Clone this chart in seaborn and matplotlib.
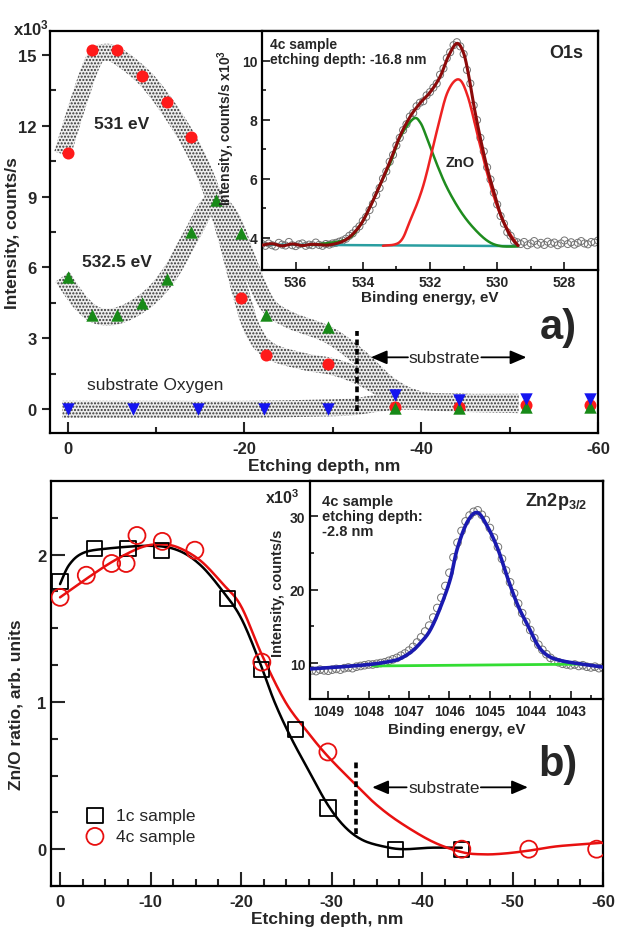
import numpy as np
import matplotlib
matplotlib.use("Agg")
import matplotlib.pyplot as plt
import seaborn as sns

# ---- panel a: O1s component intensities vs etching depth (x10^3 counts/s)
depth_531 = [0, -2.8, -5.6, -8.4, -11.2, -14.0, -19.6, -22.4, -29.5, -37.0, -44.3, -51.9, -59.1]
int_531 = [10.85, 15.2, 15.2, 14.1, 13.0, 11.5, 4.7, 2.3, 1.9, 0.1, 0.1, 0.17, 0.17]
depth_5325 = [0, -2.8, -5.6, -8.4, -11.2, -14.0, -16.8, -19.6, -22.4, -29.5, -37.0, -44.3, -51.9, -59.1]
int_5325 = [5.6, 4.0, 4.0, 4.5, 5.5, 7.5, 8.85, 7.45, 4.0, 3.5, 0.05, 0.05, 0.1, 0.1]
depth_sub = [0, -7.4, -14.8, -22.2, -29.5, -37.0, -44.3, -51.9, -59.1]
int_sub = [0, 0, 0, 0, 0, 0.6, 0.4, 0.45, 0.45]

# hand drawn guide bands
guide_531_x = [0.6, -1.4, -3.0, -4.4, -6.0, -9.0, -12.0, -14.5, -16.5, -18.0, -19.6, -21.0,
               -23.0, -27.0, -30.0, -33.0, -36.5, -40.0, -45.0, -51.0]
guide_531_y = [10.8, 13.2, 14.8, 15.1, 14.85, 13.9, 12.4, 10.8, 9.0, 7.2, 4.9, 3.3,
               2.45, 2.0, 1.8, 1.4, 0.7, 0.35, 0.25, 0.2]
guide_5325_x = [0.6, -1.5, -3.5, -6.0, -9.0, -11.5, -14.0, -16.3, -18.5, -20.5, -22.5,
                -25.0, -29.5, -33.0, -36.5, -40.0, -45.0, -51.0]
guide_5325_y = [5.6, 4.5, 3.95, 4.0, 4.65, 5.7, 7.35, 8.75, 8.1, 6.2, 4.5,
                3.8, 3.15, 2.2, 1.0, 0.4, 0.3, 0.25]
guide_sub_x = [0.6, -10.0, -20.0, -28.0, -32.0, -35.0, -38.0, -42.0, -51.0]
guide_sub_y = [0.0, 0.0, 0.0, 0.05, 0.1, 0.25, 0.35, 0.3, 0.3]

# ---- inset a: O1s spectrum, 4c sample, -16.8 nm (537.0 -> 527.0 eV, 0.1 eV step)
o1s_counts = [3.78, 3.72, 3.80, 3.74, 3.70, 3.82, 3.76, 3.73, 3.85, 3.74,
              3.71, 3.77, 3.80, 3.72, 3.76, 3.74, 3.83, 3.75, 3.72, 3.78,
              3.76, 3.80, 3.82, 3.86, 3.90, 3.96, 4.06, 4.14, 4.27, 4.38,
              4.56, 4.70, 4.93, 5.14, 5.44, 5.68, 6.00, 6.24, 6.57, 6.80,
              7.12, 7.38, 7.64, 7.84, 8.10, 8.22, 8.45, 8.57, 8.62, 8.82,
              8.93, 9.08, 9.22, 9.52, 9.73, 10.08, 10.28, 10.52, 10.62, 10.48,
              10.22, 9.68, 9.22, 8.48, 7.98, 7.38, 6.92, 6.38, 5.97, 5.52,
              5.12, 4.73, 4.47, 4.18, 4.06, 3.88, 3.84, 3.78, 3.85, 3.74,
              3.80, 3.88, 3.76, 3.82, 3.75, 3.86, 3.79, 3.83, 3.74, 3.80,
              3.90, 3.78, 3.84, 3.76, 3.82, 3.88, 3.80, 3.77, 3.85, 3.83,
              3.90]
o1s_energy = np.linspace(537.0, 527.0, len(o1s_counts))
env_x = [537.0, 536.7, 536.4, 536.1, 535.8, 535.5, 535.0, 534.5, 534.1, 533.8, 533.5, 533.2,
         532.9, 532.6, 532.3, 532.0, 531.7, 531.45, 531.2, 531.0, 530.85, 530.7, 530.5,
         530.3, 530.1, 529.9, 529.7, 529.55, 529.38]
env_y = [3.74, 3.79, 3.72, 3.78, 3.73, 3.77, 3.75, 3.93, 4.38, 5.0, 5.75, 6.55,
         7.42, 8.08, 8.55, 8.92, 9.45, 10.15, 10.58, 10.25, 9.5, 8.5, 7.36,
         6.36, 5.55, 4.78, 4.25, 3.95, 3.73]
zno_x = [533.4, 532.9, 532.6, 532.2, 531.78, 531.48, 531.15, 530.88, 530.58, 530.28,
         529.98, 529.68, 529.38]
zno_y = [3.72, 3.85, 4.55, 5.76, 7.68, 8.92, 9.36, 8.8, 7.45, 6.1, 4.99, 4.25, 3.72]
oh_x = [535.5, 534.5, 534.1, 533.8, 533.5, 533.19, 532.89, 532.5, 532.29, 532.08, 531.78,
        531.48, 531.09, 530.7, 530.28, 529.89, 529.38]
oh_y = [3.75, 3.93, 4.38, 5.0, 5.75, 6.5, 7.4, 8.02, 7.9, 7.34, 6.44,
        5.66, 4.89, 4.32, 3.88, 3.71, 3.70]
bg_o1s_x = [536.9, 529.38]
bg_o1s_y = [3.76, 3.71]

# ---- panel b: Zn/O ratio
depth_1c = [0, -3.8, -7.5, -11.2, -18.5, -22.3, -26.0, -29.6, -37.1, -44.4]
ratio_1c = [1.82, 2.04, 2.04, 2.03, 1.70, 1.22, 0.81, 0.28, 0.0, 0.0]
depth_4c = [0, -2.9, -5.7, -7.3, -8.5, -11.3, -14.9, -22.3, -29.6, -44.4, -51.8, -59.3]
ratio_4c = [1.71, 1.86, 1.94, 1.94, 2.13, 2.09, 2.03, 1.27, 0.66, 0.0, 0.0, 0.0]
fit_1c_x = [0, -1.0, -2.5, -5.0, -10.0, -13.0, -15.5, -18.0, -20.0, -22.0, -23.7, -25.5,
            -27.6, -29.6, -31.5, -33.5, -36.0, -38.0, -41.0, -44.4]
fit_1c_y = [1.80, 1.93, 2.01, 2.04, 2.06, 2.03, 1.93, 1.75, 1.57, 1.28, 1.0, 0.76,
            0.52, 0.3, 0.15, 0.06, 0.015, 0.0, 0.01, 0.01]
fit_4c_x = [0, -3.0, -6.0, -9.0, -11.0, -13.0, -15.5, -18.0, -20.0, -22.3, -24.9, -27.3,
            -29.6, -32.8, -35.0, -37.6, -41.2, -44.4, -46.7, -49.0, -51.8, -55.0, -59.3, -60.0]
fit_4c_y = [1.71, 1.84, 1.96, 2.05, 2.07, 2.05, 1.96, 1.80, 1.65, 1.32, 1.0, 0.80,
            0.63, 0.43, 0.30, 0.18, 0.05, -0.02, -0.035, -0.03, -0.01, 0.02, 0.04, 0.045]

# ---- inset b: Zn2p3/2 spectrum, 4c sample, -2.8 nm (1049.4 -> 1042.2 eV, 0.1 eV step)
zn_counts = [9.0, 8.9, 9.1, 9.0, 8.95, 9.1, 9.2, 9.1, 9.3, 9.4,
             9.3, 9.5, 9.6, 9.7, 9.8, 9.8, 9.9, 10.0, 10.1, 10.3,
             10.5, 10.7, 11.0, 11.3, 11.7, 12.2, 12.8, 13.5, 14.3, 15.1,
             16.2, 17.5, 18.9, 20.5, 22.3, 24.4, 26.4, 28.0, 29.3, 30.1,
             30.6, 30.8, 30.2, 29.5, 28.4, 27.1, 25.8, 24.2, 22.6, 21.0,
             19.5, 18.1, 16.8, 15.6, 14.5, 13.4, 12.5, 11.8, 11.2, 10.7,
             10.3, 10.1, 9.9, 9.8, 9.7, 9.8, 9.6, 9.7, 9.5, 9.4,
             9.5, 9.3, 9.4]
zn_energy = np.linspace(1049.4, 1042.2, len(zn_counts))
zn_fit_x = [1049.45, 1048.75, 1047.9, 1047.4, 1047.2, 1046.95, 1046.74, 1046.49, 1046.24, 1045.98,
            1045.81, 1045.56, 1045.31, 1045.06, 1044.8, 1044.55, 1044.3, 1044.05, 1043.8,
            1043.55, 1043.22, 1042.72, 1042.2]
zn_fit_y = [9.2, 9.45, 9.85, 10.3, 10.65, 11.5, 12.6, 14.35, 17.35, 21.4,
            25.5, 29.2, 30.5, 28.6, 25.5, 21.4, 17.75, 15.0, 12.3,
            10.95, 10.3, 9.85, 9.45]
zn_bg_x = [1047.9, 1042.7]
zn_bg_y = [9.6, 9.85]

substrate_edge = -32.7


# smooth curve through read points (Catmull-Rom)
def spline(xs, ys, n=16):
    p = np.column_stack([xs, ys]).astype(float)
    p = np.vstack([p[0], p, p[-1]])
    t = np.linspace(0, 1, n, endpoint=False)[:, None]
    out = []
    for i in range(1, len(p) - 2):
        p0, p1, p2, p3 = p[i - 1], p[i], p[i + 1], p[i + 2]
        out.append(0.5 * (2 * p1 + (-p0 + p2) * t + (2 * p0 - 5 * p1 + 4 * p2 - p3) * t ** 2
                          + (-p0 + 3 * p1 - 3 * p2 + p3) * t ** 3))
    out.append(p[-2][None])
    out = np.vstack(out)
    return out[:, 0], out[:, 1]


def curve(ax, xs, ys, color, lw, z=2):
    cx, cy = spline(xs, ys)
    sns.lineplot(x=cx, y=cy, sort=False, estimator=None, color=color, linewidth=lw, ax=ax, zorder=z)


# dotted band of constant width (in pixels) around a guide curve
def band(ax, xs, ys, half):
    bx, by = spline(xs, ys)
    pts = ax.transData.transform(np.column_stack([bx, by]))
    d = np.gradient(pts, axis=0)
    nrm = np.column_stack([-d[:, 1], d[:, 0]])
    nrm = nrm / np.linalg.norm(nrm, axis=1)[:, None]
    poly = np.vstack([pts + half * nrm, (pts - half * nrm)[::-1]])
    poly = ax.transData.inverted().transform(poly)
    ax.fill(poly[:, 0], poly[:, 1], facecolor="0.93", edgecolor="0.2", hatch=".....", lw=0, zorder=1)


def substrate_arrows(ax, y, tip_l, tip_r, txt_l, txt_r):
    ax.text((txt_l + txt_r) / 2, y, "substrate", ha="center", va="center",
            fontsize=12.5, fontweight="normal")
    for x0, x1 in [(txt_l - 0.4, tip_l), (txt_r + 0.4, tip_r)]:
        ax.annotate("", xy=(x1, y), xytext=(x0, y),
                    arrowprops=dict(arrowstyle="-|>,head_length=0.7,head_width=0.3", color="k",
                                    lw=1.3, shrinkA=0, shrinkB=0, mutation_scale=14))


def bold_ticks(ax):
    for lbl in ax.get_xticklabels() + ax.get_yticklabels():
        lbl.set_fontweight("bold")


sns.set_style("ticks")
plt.rcParams["font.family"] = ["Liberation Sans", "DejaVu Sans"]
plt.rcParams["font.weight"] = "bold"
plt.rcParams["axes.labelweight"] = "bold"
plt.rcParams["axes.unicode_minus"] = False
plt.rcParams["mathtext.fontset"] = "custom"
plt.rcParams["mathtext.rm"] = "Liberation Sans:bold"
plt.rcParams["mathtext.default"] = "rm"
plt.rcParams["hatch.linewidth"] = 1.0

fig = plt.figure(figsize=(6.19, 9.29), dpi=100)

# ================= panel a
axA = fig.add_axes([50 / 619, 1 - 434 / 929, 548 / 619, 402 / 929])
axA.set_xlim(2, -60)
axA.set_ylim(-1, 16)
band(axA, guide_sub_x, guide_sub_y, 8.5)
band(axA, guide_5325_x, guide_5325_y, 8.5)
band(axA, guide_531_x, guide_531_y, 8.5)
sns.scatterplot(x=depth_531, y=int_531, ax=axA, marker="o", s=75, color="#ff1a1a", linewidth=0, zorder=3)
sns.scatterplot(x=depth_5325, y=int_5325, ax=axA, marker="^", s=80, color="#188a18", linewidth=0, zorder=4)
sns.scatterplot(x=depth_sub, y=int_sub, ax=axA, marker="v", s=80, color="#1515f0", linewidth=0, zorder=5)
axA.vlines(substrate_edge, -0.05, 3.3, colors="k", linestyles=(0, (1.6, 1.0)), linewidth=2.6, zorder=6)
substrate_arrows(axA, 2.2, -34.3, -51.9, -38.1, -47.2)
axA.text(-6.1, 12.1, "531 eV", ha="center", va="center", fontsize=12.5, fontweight="bold")
axA.text(-5.6, 6.27, "532.5 eV", ha="center", va="center", fontsize=12.5, fontweight="bold")
axA.text(-9.9, 1.05, "substrate Oxygen", ha="center", va="center", fontsize=12.5, fontweight="normal")
axA.text(0.927, 0.264, "a)", transform=axA.transAxes, ha="center", va="center", fontsize=30, fontweight="bold")
axA.set_xticks([0, -20, -40, -60])
axA.set_xticks([-10, -30, -50], minor=True)
axA.set_yticks([0, 3, 6, 9, 12, 15])
axA.set_yticks([1.5, 4.5, 7.5, 10.5, 13.5], minor=True)
axA.tick_params(axis="x", which="both", direction="in", labelsize=12, width=1.5, pad=6)
axA.tick_params(axis="x", which="major", length=8)
axA.tick_params(axis="x", which="minor", length=4)
axA.tick_params(axis="y", which="major", direction="out", length=6, width=1.5, labelsize=12)
axA.tick_params(axis="y", which="minor", direction="in", length=4, width=1.5)
axA.set_xlabel("Etching depth, nm", fontsize=12.5, labelpad=1)
axA.set_ylabel("Intensity, counts/s", fontsize=12.5)
axA.yaxis.set_label_coords(-0.055, 0.5)
bold_ticks(axA)
fig.text(13 / 619, 1 - 28 / 929, "x10$^3$", fontsize=12, fontweight="bold", va="center")

# ================= inset a
axIa = fig.add_axes([262 / 619, 1 - 271 / 929, 336 / 619, 239 / 929])
axIa.set_facecolor("white")
axIa.set_xlim(537, 527)
axIa.set_ylim(2.9, 11)
sns.scatterplot(x=o1s_energy, y=o1s_counts, ax=axIa, marker="o", s=26, facecolor="none",
                edgecolor="0.45", linewidth=0.7, zorder=2)
curve(axIa, bg_o1s_x, bg_o1s_y, "#2a9ea0", 1.8, 3)
curve(axIa, oh_x, oh_y, "#1e8c1e", 1.8, 3)
curve(axIa, zno_x, zno_y, "#ee2222", 1.8, 3)
curve(axIa, env_x, env_y, "#8b0a0a", 2.2, 4)
axIa.text(0.024, 0.975, "4c sample\netching depth: -16.8 nm", transform=axIa.transAxes,
          ha="left", va="top", fontsize=10, fontweight="bold", linespacing=1.1)
axIa.text(0.955, 0.91, "O1s", transform=axIa.transAxes, ha="right", va="center", fontsize=13, fontweight="bold")
axIa.text(531.1, 6.57, "ZnO", ha="center", va="center", fontsize=10.5, fontweight="bold")
axIa.set_xticks([536, 534, 532, 530, 528])
axIa.set_xticks([537, 535, 533, 531, 529, 527], minor=True)
axIa.set_yticks([4, 6, 8, 10])
axIa.set_yticks([5, 7, 9], minor=True)
axIa.tick_params(which="both", direction="in", width=1.3, labelsize=10)
axIa.tick_params(which="major", length=6)
axIa.tick_params(which="minor", length=3)
axIa.set_xlabel("Binding energy, eV", fontsize=11, labelpad=1)
axIa.set_ylabel("Intensity, counts/s x10$^3$", fontsize=10)
axIa.yaxis.set_label_coords(-0.075, 0.6)
bold_ticks(axIa)

# ================= panel b
axB = fig.add_axes([51 / 619, 1 - 887 / 929, 552 / 619, 405 / 929])
axB.set_xlim(1, -60)
axB.set_ylim(-0.25, 2.5)
curve(axB, fit_1c_x, fit_1c_y, "black", 1.8, 2)
curve(axB, fit_4c_x, fit_4c_y, "#e81010", 1.8, 2)
sns.scatterplot(x=depth_1c, y=ratio_1c, ax=axB, marker="s", s=120, facecolor="none",
                edgecolor="black", linewidth=1.3, zorder=3, label="1c sample")
sns.scatterplot(x=depth_4c, y=ratio_4c, ax=axB, marker="o", s=150, facecolor="none",
                edgecolor="#e81010", linewidth=1.3, zorder=3, label="4c sample")
axB.vlines(substrate_edge, 0.1, 0.6, colors="k", linestyles=(0, (1.6, 1.0)), linewidth=2.6, zorder=6)
substrate_arrows(axB, 0.42, -34.5, -51.7, -37.9, -46.9)
axB.text(0.918, 0.301, "b)", transform=axB.transAxes, ha="center", va="center", fontsize=30, fontweight="bold")
axB.legend(loc="upper left", bbox_to_anchor=(0.045, 0.215), frameon=False,
           prop={"weight": "normal", "size": 12.5}, handletextpad=0.6, labelspacing=0.35,
           borderpad=0, handlelength=1.2)
axB.set_xticks([0, -10, -20, -30, -40, -50, -60])
axB.set_xticks(np.arange(-2.5, -60, -2.5), minor=True)
axB.set_yticks([0, 1, 2])
axB.set_yticks([-0.25, 0.25, 0.5, 0.75, 1.25, 1.5, 1.75, 2.25], minor=True)
axB.tick_params(which="both", direction="in", width=1.5, labelsize=12)
axB.tick_params(which="major", length=10)
axB.tick_params(which="minor", length=5)
axB.tick_params(axis="x", pad=6)
axB.set_xlabel("Etching depth, nm", fontsize=12.5, labelpad=1)
axB.set_ylabel("Zn/O ratio, arb. units", fontsize=12.5)
axB.yaxis.set_label_coords(-0.05, 0.45)
bold_ticks(axB)

# ================= inset b
axIb = fig.add_axes([310 / 619, 1 - 700 / 929, 293 / 619, 218 / 929])
axIb.set_facecolor("white")
axIb.set_xlim(1049.45, 1042.2)
axIb.set_ylim(5.1, 34.8)
sns.scatterplot(x=zn_energy, y=zn_counts, ax=axIb, marker="o", s=30, facecolor="none",
                edgecolor="0.45", linewidth=0.7, zorder=2)
curve(axIb, zn_bg_x, zn_bg_y, "#33dd33", 2.0, 3)
curve(axIb, zn_fit_x, zn_fit_y, "#1a1ab0", 2.6, 4)
axIb.text(0.04, 0.94, "4c sample\netching depth:\n-2.8 nm", transform=axIb.transAxes,
          ha="left", va="top", fontsize=10.5, fontweight="bold", linespacing=1.1)
axIb.text(0.945, 0.91, "Zn2p$_{3/2}$", transform=axIb.transAxes, ha="right", va="center",
          fontsize=13, fontweight="bold")
axIb.set_xticks([1049, 1048, 1047, 1046, 1045, 1044, 1043])
axIb.set_xticks([1048.5, 1047.5, 1046.5, 1045.5, 1044.5, 1043.5, 1042.5], minor=True)
axIb.set_yticks([10, 20, 30])
axIb.set_yticks([15, 25], minor=True)
axIb.tick_params(which="both", direction="in", width=1.3, labelsize=10)
axIb.tick_params(which="major", length=6)
axIb.tick_params(which="minor", length=3)
axIb.set_xlabel("Binding energy, eV", fontsize=11, labelpad=3)
axIb.set_ylabel("Intensity, counts/s", fontsize=10.5)
axIb.yaxis.set_label_coords(-0.085, 0.49)
bold_ticks(axIb)
fig.text(265 / 619, 1 - 498 / 929, "x10$^3$", fontsize=11.5, fontweight="bold", va="center")

for ax in [axA, axIa, axB, axIb]:
    for sp in ax.spines.values():
        sp.set_linewidth(1.6)
        sp.set_color("black")
axIa.set_zorder(5)
axIb.set_zorder(5)

fig.savefig("out.png", dpi=100)
